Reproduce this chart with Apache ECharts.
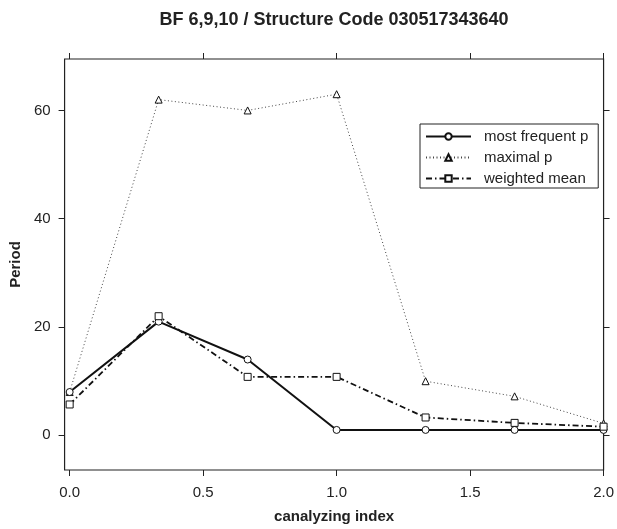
<!DOCTYPE html>
<html>
<head>
<meta charset="utf-8">
<script src="https://cdn.jsdelivr.net/npm/echarts@6/dist/echarts.min.js"></script>
<style>
    html, body { margin: 0; padding: 0; background: #fff; }
    #chart { width: 617px; height: 529px; }
</style>
</head>
<body>
<div id="chart"></div>
<script>
let canalyzingIndex = [0, 0.3333, 0.6667, 1, 1.3333, 1.6667, 2];
let mostFrequent = [8, 21, 14, 1, 1, 1, 1];
let maximalP = [8, 62, 60, 63, 10, 7.2, 2.2];
let weightedMean = [5.7, 22, 10.8, 10.8, 3.3, 2.3, 1.6];
let xTicks = [0, 0.5, 1, 1.5, 2];
let yTicks = [0, 20, 40, 60];

function pairs(values) {
    return values.map((v, i) => [canalyzingIndex[i], v]);
}

let FONT = 'Liberation Sans, Arial, sans-serif';
let INK = '#222';

let chart = echarts.init(document.getElementById('chart'));

function tick(values) {
    return { show: true, inside: false, length: 6, customValues: values, lineStyle: { color: INK, width: 1 } };
}

let hiddenAxis = {
    axisLine: { show: false, onZero: false },
    splitLine: { show: false },
    axisLabel: { show: false }
};

chart.setOption({
    animation: false,
    backgroundColor: '#fff',
    graphic: [
        {
            // title centred over the plot box, not the page
            type: 'text',
            x: 334,
            y: 20,
            style: {
                text: 'BF 6,9,10 / Structure Code 030517343640',
                align: 'center',
                verticalAlign: 'middle',
                font: 'bold 18px Liberation Sans, Arial, sans-serif',
                fill: INK
            }
        }
    ],
    grid: {
        left: 62,
        right: 13,
        top: 59,
        bottom: 56,
        show: true,
        borderColor: INK,
        borderWidth: 1.2
    },
    legend: {
        orient: 'vertical',
        left: 420,
        top: 124,
        padding: [5, 10, 2, 5],
        itemGap: 6,
        itemWidth: 45,
        itemHeight: 8,
        borderColor: INK,
        borderWidth: 1,
        textStyle: { fontFamily: FONT, fontSize: 15, color: INK, padding: [0, 0, 0, 8] },
        data: ['most frequent p', 'maximal p', 'weighted mean']
    },
    xAxis: [
        {
            type: 'value',
            min: -0.019,
            max: 2,
            position: 'bottom',
            name: 'canalyzing index',
            nameLocation: 'middle',
            nameGap: 39,
            nameTextStyle: { fontFamily: FONT, fontSize: 15, fontWeight: 'bold', color: INK },
            axisLine: { show: false, onZero: false },
            splitLine: { show: false },
            axisTick: tick(xTicks),
            axisLabel: {
                customValues: xTicks,
                margin: 15,
                fontFamily: FONT, fontSize: 15, color: INK,
                formatter: v => v.toFixed(1)
            }
        },
        Object.assign({
            type: 'value',
            min: -0.019,
            max: 2,
            position: 'top',
            axisTick: tick(xTicks)
        }, hiddenAxis)
    ],
    yAxis: [
        {
            type: 'value',
            min: -6.4,
            max: 69.5,
            position: 'left',
            name: 'Period',
            nameLocation: 'middle',
            nameGap: 37,
            nameTextStyle: { fontFamily: FONT, fontSize: 15, fontWeight: 'bold', color: INK },
            axisLine: { show: false, onZero: false },
            splitLine: { show: false },
            axisTick: tick(yTicks),
            axisLabel: {
                customValues: yTicks,
                margin: 14,
                fontFamily: FONT, fontSize: 15, color: INK
            }
        },
        Object.assign({
            type: 'value',
            min: -6.4,
            max: 69.5,
            position: 'right',
            axisTick: tick(yTicks)
        }, hiddenAxis)
    ],
    series: [
        {
            name: 'most frequent p',
            type: 'line',
            data: pairs(mostFrequent),
            symbol: 'circle',
            symbolSize: 7,
            z: 4,
            lineStyle: { color: '#111', width: 2, type: 'solid' },
            itemStyle: { color: '#fff', borderColor: '#111', borderWidth: 1 }
        },
        {
            name: 'maximal p',
            type: 'line',
            data: pairs(maximalP),
            symbol: 'triangle',
            symbolSize: 7,
            z: 3,
            lineStyle: { color: '#444', width: 1, type: [1, 2.5] },
            itemStyle: { color: '#fff', borderColor: '#111', borderWidth: 1 }
        },
        {
            name: 'weighted mean',
            type: 'line',
            data: pairs(weightedMean),
            symbol: 'rect',
            symbolSize: 7,
            z: 5,
            lineStyle: { color: '#111', width: 1.8, type: [6, 3, 1.5, 3] },
            itemStyle: { color: '#fff', borderColor: '#111', borderWidth: 1 }
        }
    ]
});
</script>
</body>
</html>
